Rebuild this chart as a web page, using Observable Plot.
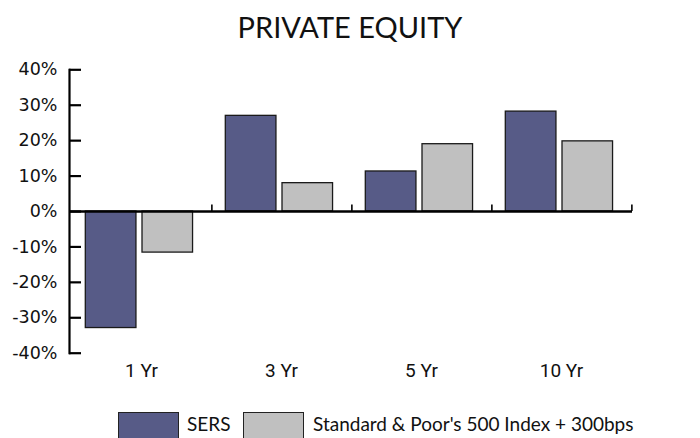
<!DOCTYPE html>
<html>
<head>
<meta charset="utf-8">
<script src="https://cdn.jsdelivr.net/npm/d3@7"></script>
<script src="https://cdn.jsdelivr.net/npm/@observablehq/plot@0.6"></script>
<style>
  html, body { margin: 0; padding: 0; background: #fff; }
  #wrap { position: relative; width: 700px; height: 438px; overflow: hidden; }
  #title { position: absolute; left: 0; width: 700px; top: 9px; text-align: center;
           font: 29px Lato, "Open Sans", sans-serif; color: #111; }
  #chart { position: absolute; left: 0; top: 0; }
  #legend { position: absolute; left: 0; top: 0; width: 700px; height: 438px; pointer-events: none; }
  .sw { position: absolute; top: 412px; width: 61px; height: 30px; border: 1.2px solid #222; box-sizing: border-box; }
  .lt { position: absolute; top: 412px; font: 19px Lato, "Open Sans", sans-serif; color: #111; white-space: nowrap; }
</style>
</head>
<body>
<div id="wrap">
  <div id="chart"></div>
  <div id="title">PRIVATE EQUITY</div>
  <div id="legend"></div>
</div>
<script>
const periods = ["1 Yr", "3 Yr", "5 Yr", "10 Yr"];
const sers = [-32.9, 27.0, 11.3, 28.2];
const sp500 = [-11.6, 8.0, 19.0, 19.8];
const seriesNames = ["SERS", "Standard & Poor's 500 Index + 300bps"];
const seriesColors = ["#575b87", "#c0c0c0"];
const yTicks = [-40, -30, -20, -10, 0, 10, 20, 30, 40];

const sersData = periods.map((p, i) => ({period: p, value: sers[i]}));
const spData = periods.map((p, i) => ({period: p, value: sp500[i]}));

const W = 700, H = 438;
const mL = 69, mR = 68, mT = 69.3, mB = 85.3;
const bw = (W - mL - mR) / periods.length;

const chart = Plot.plot({
  width: W,
  height: H,
  marginLeft: mL,
  marginRight: mR,
  marginTop: mT,
  marginBottom: mB,
  style: {background: "transparent", overflow: "visible"},
  x: {type: "band", domain: periods, padding: 0, axis: null, label: null},
  y: {domain: [-40, 40], axis: null, label: null},
  marks: [
    Plot.barY(sersData, {x: "period", y1: 0, y2: "value", fill: seriesColors[0],
      stroke: "#1a1a1a", strokeWidth: 1.3, insetLeft: 14.3, insetRight: bw - 65.7}),
    Plot.barY(spData, {x: "period", y1: 0, y2: "value", fill: seriesColors[1],
      stroke: "#1a1a1a", strokeWidth: 1.3, insetLeft: 71, insetRight: bw - 122.3}),
    Plot.ruleY([0], {stroke: "#000", strokeWidth: 2.5}),
    Plot.ruleX(periods, {x: d => d, dx: bw / 2, y1: 0, y2: 1.8, stroke: "#000", strokeWidth: 1.6}),
    Plot.frame({anchor: "left", stroke: "#000", strokeWidth: 2.2}),
    Plot.axisY(yTicks, {tickSize: -12, text: null, label: null, stroke: "#000", strokeWidth: 2.2}),
    Plot.axisY(yTicks, {tickSize: 0, tickPadding: 12, label: null, tickFormat: d => d + "%",
      fontSize: 17.5, fontFamily: "DejaVu Sans", fill: "#111"}),
    Plot.axisX(periods, {tickSize: 0, tickPadding: 0, anchor: "bottom", label: null, dy: 10,
      fontSize: 19, fontFamily: "Roboto", fill: "#111", textAnchor: "middle"})
  ]
});
document.getElementById("chart").appendChild(chart);

const legend = document.getElementById("legend");
const swLeft = [118, 243];
const txtLeft = [187, 313];
seriesNames.forEach((name, i) => {
  const sw = document.createElement("div");
  sw.className = "sw";
  sw.style.left = swLeft[i] + "px";
  sw.style.background = seriesColors[i];
  legend.appendChild(sw);
  const t = document.createElement("div");
  t.className = "lt";
  t.style.left = txtLeft[i] + "px";
  t.textContent = name;
  legend.appendChild(t);
});
</script>
</body>
</html>
